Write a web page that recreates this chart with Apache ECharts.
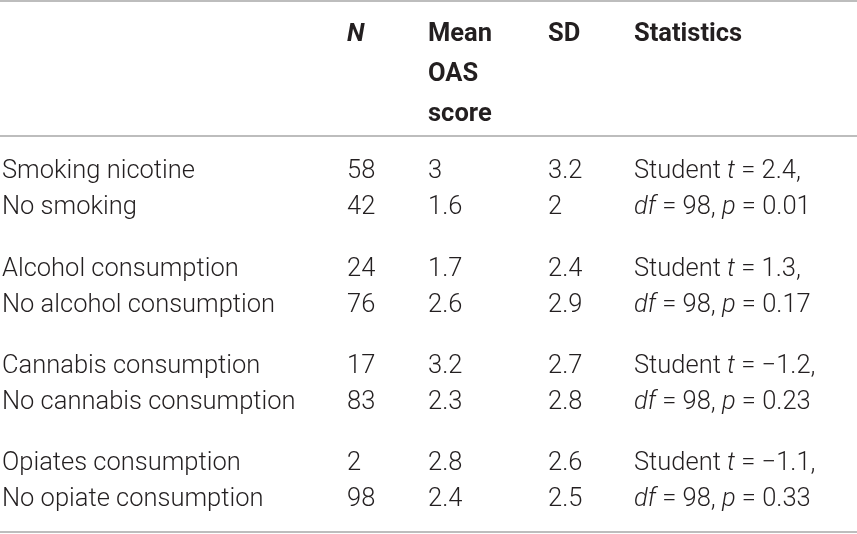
<!DOCTYPE html>
<html>
<head>
<meta charset="utf-8">
<script src="https://cdn.jsdelivr.net/npm/echarts@6/dist/echarts.min.js"></script>
<style>
  html, body { margin: 0; padding: 0; background: #fff; }
  #table { width: 857px; height: 534px; }
</style>
</head>
<body>
<div id="table"></div>
<script>
// table values
const rowLabels = [
  'Smoking nicotine', 'No smoking',
  'Alcohol consumption', 'No alcohol consumption',
  'Cannabis consumption', 'No cannabis consumption',
  'Opiates consumption', 'No opiate consumption'
];
const nValues = [58, 42, 24, 76, 17, 83, 2, 98];
const meanValues = [3, 1.6, 1.7, 2.6, 3.2, 2.3, 2.8, 2.4];
const sdValues = [3.2, 2, 2.4, 2.9, 2.7, 2.8, 2.6, 2.5];
// one student test per pair of rows
const tValues = [2.4, 1.3, -1.2, -1.1];
const dfValues = [98, 98, 98, 98];
const pValues = [0.01, 0.17, 0.23, 0.33];
const headerLines = [
  ['', 'N', 'Mean', 'SD', 'Statistics'],
  ['', '', 'OAS', '', ''],
  ['', '', 'score', '', '']
];

// layout
const W = 857, H = 534;
const colX = [2, 347, 428, 548, 634];
const headerY = [35, 75, 115];
const firstRowY = 172, groupStep = 97.3, pairStep = 36;
const ruleY = [1, 136, 532];
const FONT = 'Roboto, "Liberation Sans", sans-serif';
const SIZE = 25.5;
const INK = '#231f20';

function rowY(i) {
  return firstRowY + Math.floor(i / 2) * groupStep + (i % 2) * pairStep;
}
function num(v) {
  return String(v).replace('-', '\u2212');
}

const EQ = ' = ';
const cells = [];
headerLines.forEach(function (line, r) {
  line.forEach(function (txt, c) {
    if (!txt) return;
    cells.push({ x: colX[c], y: headerY[r], text: txt, kind: c === 1 ? 'headItalic' : 'head' });
  });
});
rowLabels.forEach(function (label, i) {
  const y = rowY(i);
  cells.push({ x: colX[0], y: y, text: label, kind: 'body' });
  cells.push({ x: colX[1], y: y, text: num(nValues[i]), kind: 'body' });
  cells.push({ x: colX[2], y: y, text: num(meanValues[i]), kind: 'body' });
  cells.push({ x: colX[3], y: y, text: num(sdValues[i]), kind: 'body' });
});
tValues.forEach(function (t, g) {
  cells.push({ x: colX[4], y: rowY(g * 2), text: 'Student {i|t}' + EQ + num(t) + ',', kind: 'body' });
  cells.push({ x: colX[4], y: rowY(g * 2 + 1),
    text: '{i|df}' + EQ + dfValues[g] + ', {i|p}' + EQ + num(pValues[g]), kind: 'body' });
});

const kinds = {
  head: { fontWeight: 'bold', fontStyle: 'normal' },
  headItalic: { fontWeight: 'bold', fontStyle: 'italic' },
  body: { fontWeight: 300, fontStyle: 'normal' }
};

const chart = echarts.init(document.getElementById('table'));
chart.setOption({
  animation: false,
  grid: { left: 0, right: 0, top: 0, bottom: 0 },
  xAxis: { type: 'value', min: 0, max: W, show: false },
  yAxis: { type: 'value', min: 0, max: H, inverse: true, show: false },
  series: [
    {
      type: 'custom',
      silent: true,
      data: ruleY.map(function (y) { return [0, y]; }),
      renderItem: function (params, api) {
        const a = api.coord([0, api.value(1)]);
        const b = api.coord([W, api.value(1)]);
        return {
          type: 'line',
          shape: { x1: a[0], y1: a[1], x2: b[0], y2: b[1] },
          style: { stroke: '#a7a7a7', lineWidth: 1.6 }
        };
      }
    },
    {
      type: 'custom',
      silent: true,
      data: cells.map(function (c) { return [c.x, c.y]; }),
      renderItem: function (params, api) {
        const c = cells[params.dataIndex];
        const k = kinds[c.kind];
        const p = api.coord([api.value(0), api.value(1)]);
        return {
          type: 'text',
          x: p[0],
          y: p[1],
          style: {
            text: c.text,
            fill: INK,
            fontFamily: FONT,
            fontSize: SIZE,
            fontWeight: k.fontWeight,
            fontStyle: k.fontStyle,
            align: 'left',
            verticalAlign: 'middle',
            rich: {
              i: { fontFamily: FONT, fontSize: SIZE, fontWeight: k.fontWeight, fontStyle: 'italic', fill: INK }
            }
          }
        };
      }
    }
  ]
});
</script>
</body>
</html>
